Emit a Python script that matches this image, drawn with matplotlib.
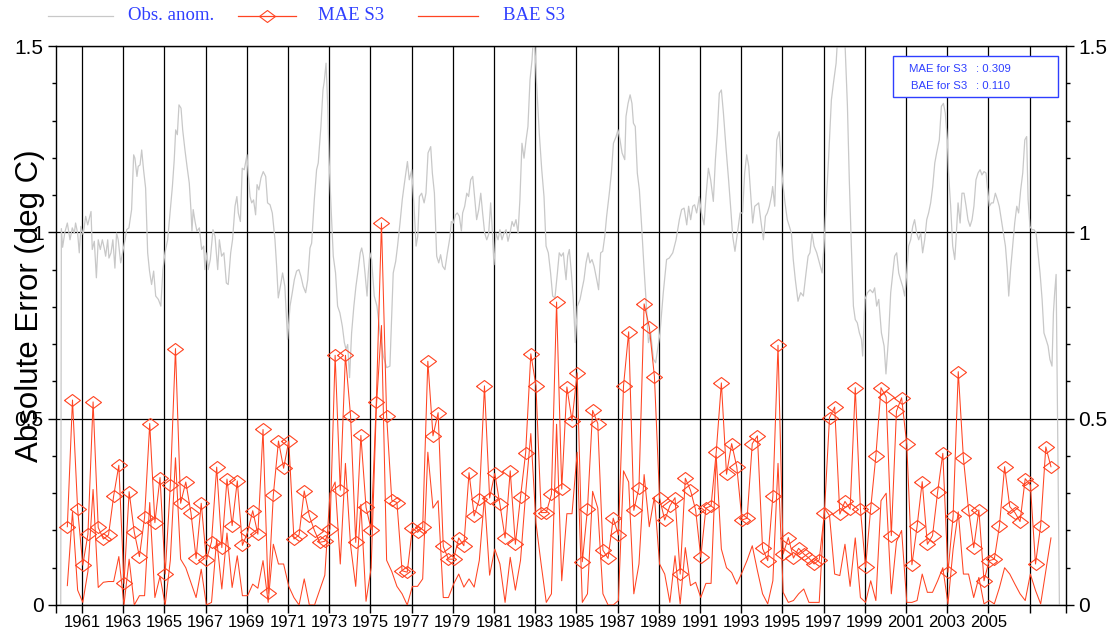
import numpy as np
import matplotlib.pyplot as plt
from matplotlib.lines import Line2D
from matplotlib.patches import Rectangle
from matplotlib.ticker import MultipleLocator

# ---- data ----
# observed anomaly (grey line), irregular vertices: decimal year, value
obs_year = [1959.97, 1960.00, 1960.06, 1960.17, 1960.29, 1960.42, 1960.53, 1960.63, 1960.69, 1960.79,
            1960.87, 1960.95, 1961.06, 1961.18, 1961.28, 1961.44, 1961.50, 1961.60, 1961.70, 1961.79,
            1961.89, 1961.99, 1962.08, 1962.15, 1962.25, 1962.31, 1962.41, 1962.50, 1962.60, 1962.68,
            1962.76, 1962.88, 1962.97, 1963.09, 1963.17, 1963.28, 1963.41, 1963.51, 1963.57, 1963.67,
            1963.73, 1963.82, 1963.90, 1963.99, 1964.09, 1964.19, 1964.28, 1964.38, 1964.48, 1964.58,
            1964.71, 1964.83, 1964.93, 1965.03, 1965.16, 1965.27, 1965.39, 1965.48, 1965.55, 1965.63,
            1965.71, 1965.81, 1965.89, 1966.00, 1966.10, 1966.21, 1966.29, 1966.34, 1966.40, 1966.49,
            1966.58, 1966.70, 1966.81, 1966.91, 1966.97, 1967.07, 1967.13, 1967.23, 1967.36, 1967.46,
            1967.59, 1967.67, 1967.78, 1967.89, 1968.01, 1968.10, 1968.22, 1968.31, 1968.43, 1968.52,
            1968.59, 1968.69, 1968.78, 1968.88, 1969.01, 1969.07, 1969.16, 1969.24, 1969.33, 1969.43,
            1969.50, 1969.59, 1969.69, 1969.80, 1969.92, 1970.01, 1970.13, 1970.24, 1970.37, 1970.45,
            1970.53, 1970.66, 1970.74, 1970.85, 1970.98, 1971.10, 1971.21, 1971.31, 1971.42, 1971.53,
            1971.63, 1971.74, 1971.86, 1971.96, 1972.07, 1972.15, 1972.28, 1972.39, 1972.47, 1972.60,
            1972.70, 1972.76, 1972.85, 1972.93, 1972.99, 1973.09, 1973.20, 1973.31, 1973.41, 1973.52,
            1973.64, 1973.74, 1973.82, 1973.90, 1973.99, 1974.09, 1974.20, 1974.30, 1974.41, 1974.51,
            1974.58, 1974.66, 1974.74, 1974.84, 1974.90, 1974.98, 1975.06, 1975.19, 1975.32, 1975.47,
            1975.63, 1975.79, 1975.95, 1976.11, 1976.23, 1976.32, 1976.44, 1976.55, 1976.65, 1976.80,
            1976.89, 1977.01, 1977.12, 1977.22, 1977.30, 1977.38, 1977.49, 1977.61, 1977.70, 1977.80,
            1977.93, 1978.01, 1978.11, 1978.22, 1978.32, 1978.41, 1978.51, 1978.62, 1978.74, 1978.87,
            1978.93, 1979.03, 1979.13, 1979.22, 1979.32, 1979.42, 1979.48, 1979.58, 1979.68, 1979.77,
            1979.87, 1979.97, 1980.06, 1980.16, 1980.26, 1980.36, 1980.45, 1980.55, 1980.65, 1980.74,
            1980.84, 1980.91, 1981.00, 1981.10, 1981.20, 1981.29, 1981.39, 1981.49, 1981.59, 1981.68,
            1981.78, 1981.88, 1981.97, 1982.07, 1982.17, 1982.26, 1982.36, 1982.46, 1982.56, 1982.65,
            1982.75, 1982.85, 1982.91, 1982.98, 1983.07, 1983.20, 1983.32, 1983.43, 1983.53, 1983.64,
            1983.75, 1983.85, 1983.96, 1984.08, 1984.17, 1984.27, 1984.37, 1984.43, 1984.50, 1984.58,
            1984.66, 1984.76, 1984.85, 1984.95, 1985.05, 1985.18, 1985.27, 1985.37, 1985.47, 1985.57,
            1985.66, 1985.76, 1985.86, 1985.99, 1986.08, 1986.18, 1986.28, 1986.38, 1986.47, 1986.60,
            1986.70, 1986.80, 1986.93, 1987.02, 1987.12, 1987.22, 1987.35, 1987.41, 1987.51, 1987.61,
            1987.70, 1987.77, 1987.86, 1987.96, 1988.06, 1988.17, 1988.28, 1988.38, 1988.50, 1988.61,
            1988.74, 1988.85, 1989.06, 1989.22, 1989.38, 1989.51, 1989.68, 1989.84, 1990.00, 1990.11,
            1990.23, 1990.36, 1990.45, 1990.55, 1990.65, 1990.74, 1990.84, 1990.97, 1991.07, 1991.20,
            1991.29, 1991.41, 1991.52, 1991.65, 1991.75, 1991.84, 1991.94, 1992.04, 1992.14, 1992.26,
            1992.39, 1992.50, 1992.59, 1992.70, 1992.82, 1992.95, 1993.07, 1993.17, 1993.27, 1993.37,
            1993.46, 1993.56, 1993.66, 1993.75, 1993.85, 1993.95, 1994.08, 1994.18, 1994.27, 1994.37,
            1994.47, 1994.53, 1994.63, 1994.73, 1994.85, 1994.92, 1995.02, 1995.13, 1995.24, 1995.34,
            1995.44, 1995.53, 1995.63, 1995.76, 1995.89, 1996.02, 1996.15, 1996.25, 1996.34, 1996.44,
            1996.54, 1996.67, 1996.80, 1996.93, 1997.02, 1997.12, 1997.25, 1997.38, 1997.48, 1997.61,
            1997.67, 1997.80, 1997.93, 1998.04, 1998.16, 1998.25, 1998.35, 1998.45, 1998.54, 1998.64,
            1998.74, 1998.84, 1998.90, 1999.01, 1999.13, 1999.26, 1999.39, 1999.48, 1999.58, 1999.68,
            1999.81, 1999.94, 2000.03, 2000.15, 2000.26, 2000.36, 2000.45, 2000.55, 2000.65, 2000.74,
            2000.84, 2000.94, 2001.04, 2001.13, 2001.23, 2001.33, 2001.42, 2001.52, 2001.62, 2001.72,
            2001.81, 2001.91, 2002.01, 2002.10, 2002.20, 2002.30, 2002.40, 2002.49, 2002.62, 2002.72,
            2002.82, 2002.91, 2003.01, 2003.07, 2003.17, 2003.27, 2003.37, 2003.43, 2003.53, 2003.63,
            2003.72, 2003.82, 2003.92, 2004.01, 2004.11, 2004.21, 2004.30, 2004.40, 2004.50, 2004.60,
            2004.69, 2004.79, 2004.89, 2004.95, 2005.05, 2005.15, 2005.24, 2005.34, 2005.44, 2005.53,
            2005.63, 2005.73, 2005.83, 2005.92, 2005.99, 2006.08, 2006.18, 2006.28, 2006.38, 2006.47,
            2006.57, 2006.67, 2006.77, 2006.86, 2006.93, 2007.02, 2007.12, 2007.22, 2007.32, 2007.41,
            2007.51, 2007.61, 2007.70, 2007.80, 2007.90, 2007.99, 2008.09, 2008.16, 2008.22, 2008.29,
            2008.45]
obs_val = [0.0, 1.01, 0.96, 1.0, 1.025, 0.98, 1.012, 0.998, 1.025, 0.998,
           0.945, 1.016, 0.994, 1.043, 1.02, 1.056, 0.954, 0.976, 0.878, 0.98,
           0.954, 0.98, 0.958, 0.936, 0.98, 0.931, 0.945, 0.98, 0.904, 0.998,
           0.98, 0.918, 0.945, 0.98, 1.007, 1.012, 1.061, 1.208, 1.199, 1.15,
           1.177, 1.181, 1.221, 1.168, 1.119, 0.945, 0.896, 0.86, 0.896, 0.829,
           0.82, 0.802, 0.9, 0.945, 0.98, 1.047, 1.123, 1.195, 1.275, 1.262,
           1.342, 1.333, 1.275, 1.221, 1.177, 1.132, 1.061, 1.003, 1.061, 1.029,
           1.003, 1.012, 0.954, 0.963, 0.9, 0.945, 0.9, 0.927, 1.007, 0.989,
           0.9, 0.98, 0.936, 0.945, 0.864, 0.86, 0.945, 0.98, 1.07, 1.096,
           1.052, 1.029, 1.172, 1.168, 1.208, 1.159, 1.096, 1.079, 1.087, 1.047,
           1.128, 1.114, 1.146, 1.163, 1.15, 1.079, 1.074, 1.052, 0.98, 0.909,
           0.824, 0.864, 0.891, 0.855, 0.713, 0.802, 0.838, 0.873, 0.896, 0.9,
           0.882, 0.855, 0.838, 0.873, 0.958, 0.971, 1.088, 1.168, 1.186, 1.284,
           1.382, 1.404, 1.454, 1.338, 1.204, 1.07, 0.936, 0.891, 0.802, 0.784,
           0.748, 0.704, 0.686, 0.699, 0.61, 0.73, 0.802, 0.855, 0.9, 0.945,
           0.958, 0.936, 0.891, 0.829, 0.891, 0.945, 0.927, 0.829, 0.802, 0.73,
           0.668, 0.637, 0.641, 0.891, 0.922, 0.963, 1.025, 1.088, 1.13, 1.19,
           1.141, 1.168, 1.07, 0.963, 0.989, 1.096, 1.105, 1.079, 1.105, 1.213,
           1.23, 1.159, 1.105, 0.936, 0.918, 0.94, 0.909, 0.9, 0.945, 0.989,
           1.029, 1.025, 1.047, 1.052, 1.043, 1.003, 1.052, 1.07, 1.105, 1.096,
           1.141, 1.15, 1.096, 1.034, 1.061, 1.105, 1.052, 0.998, 0.98, 0.994,
           1.079, 1.016, 0.913, 0.998, 0.98, 1.007, 0.98, 0.998, 1.007, 0.976,
           0.998, 1.029, 1.016, 1.034, 0.998, 1.088, 1.239, 1.199, 1.248, 1.284,
           1.409, 1.463, 1.52, 1.51, 1.4, 1.266, 1.168, 1.096, 0.963, 0.945,
           0.891, 0.829, 0.824, 0.891, 0.945, 0.936, 0.945, 0.909, 0.873, 0.936,
           0.954, 0.891, 0.82, 0.704, 0.802, 0.82, 0.846, 0.873, 0.918, 0.945,
           0.918, 0.927, 0.909, 0.873, 0.846, 0.945, 0.949, 0.989, 1.043, 1.105,
           1.159, 1.239, 1.257, 1.275, 1.248, 1.213, 1.195, 1.311, 1.346, 1.369,
           1.346, 1.293, 1.284, 1.159, 1.114, 1.016, 0.909, 0.82, 0.704, 0.73,
           0.66, 0.65, 0.73, 0.838, 0.927, 0.931, 0.945, 0.98, 1.034, 1.061,
           1.065, 1.02, 1.07, 1.034, 1.07, 1.074, 1.052, 1.096, 1.052, 1.02,
           1.096, 1.172, 1.141, 1.083, 1.195, 1.266, 1.373, 1.382, 1.32, 1.23,
           1.141, 1.06, 0.989, 0.949, 0.998, 1.052, 1.052, 1.159, 1.208, 1.177,
           1.105, 1.025, 1.07, 1.074, 1.079, 1.034, 0.98, 1.043, 1.052, 1.07,
           1.096, 1.123, 1.07, 1.248, 1.27, 1.204, 1.132, 1.079, 1.034, 1.016,
           0.998, 0.927, 0.873, 0.815, 0.838, 0.829, 0.891, 0.936, 0.945, 0.998,
           0.963, 0.945, 0.918, 0.891, 0.963, 1.07, 1.204, 1.355, 1.4, 1.454,
           1.51, 1.6, 1.55, 1.51, 1.338, 1.141, 0.963, 0.802, 0.766, 0.757,
           0.73, 0.713, 0.668, 0.82, 0.838, 0.846, 0.838, 0.851, 0.802, 0.82,
           0.73, 0.695, 0.62, 0.713, 0.838, 0.891, 0.936, 0.945, 0.891, 0.873,
           0.855, 0.829, 0.891, 0.963, 0.98, 1.016, 1.034, 0.998, 0.98, 0.998,
           0.945, 0.98, 1.034, 1.052, 1.079, 1.123, 1.186, 1.213, 1.248, 1.338,
           1.346, 1.32, 1.248, 1.159, 1.07, 0.963, 0.927, 0.98, 1.079, 1.025,
           1.105, 1.105, 1.07, 1.034, 1.016, 1.034, 1.07, 1.141, 1.159, 1.168,
           1.154, 1.163, 1.159, 1.123, 1.07, 1.079, 1.079, 1.105, 1.088, 1.07,
           1.034, 0.998, 0.963, 0.9, 0.829, 0.9, 0.963, 1.025, 1.07, 1.052,
           1.114, 1.159, 1.248, 1.257, 1.088, 1.016, 1.007, 1.007, 0.998, 0.945,
           0.891, 0.82, 0.73, 0.713, 0.695, 0.659, 0.641, 0.784, 0.838, 0.887,
           0.0]

# seasonal errors, first season centred on April 1960, one value per quarter
season_start = 1960.29
mae_s3 = [0.21, 0.55, 0.257,
          0.107, 0.19, 0.545, 0.208,
          0.177, 0.188, 0.293, 0.375,
          0.058, 0.304, 0.195, 0.13,
          0.235, 0.487, 0.221, 0.342,
          0.083, 0.322, 0.688, 0.273,
          0.33, 0.248, 0.125, 0.273,
          0.121, 0.17, 0.37, 0.154,
          0.338, 0.213, 0.333, 0.16,
          0.195, 0.253, 0.19, 0.471,
          0.031, 0.295, 0.44, 0.367,
          0.44, 0.177, 0.188, 0.306,
          0.239, 0.199, 0.168, 0.171,
          0.204, 0.67, 0.308, 0.67,
          0.507, 0.168, 0.455, 0.262,
          0.202, 0.546, 1.025, 0.507,
          0.281, 0.275, 0.092, 0.088,
          0.206, 0.195, 0.208, 0.654,
          0.454, 0.516, 0.157, 0.123,
          0.123, 0.18, 0.159, 0.355,
          0.239, 0.284, 0.588, 0.287,
          0.353, 0.27, 0.18, 0.36,
          0.163, 0.29, 0.409, 0.674,
          0.588, 0.248, 0.248, 0.297,
          0.813, 0.311, 0.585, 0.494,
          0.623, 0.116, 0.257, 0.522,
          0.487, 0.147, 0.125, 0.233,
          0.188, 0.588, 0.733, 0.254,
          0.315, 0.808, 0.746, 0.613,
          0.287, 0.228, 0.266, 0.288,
          0.083, 0.34, 0.308, 0.255,
          0.128, 0.26, 0.266, 0.41,
          0.596, 0.351, 0.433, 0.37,
          0.228, 0.233, 0.433, 0.454,
          0.152, 0.119, 0.293, 0.697,
          0.137, 0.181, 0.126, 0.152,
          0.137, 0.126, 0.11, 0.121,
          0.246, 0.503, 0.531, 0.244,
          0.278, 0.257, 0.583, 0.257,
          0.101, 0.26, 0.4, 0.583,
          0.558, 0.186, 0.52, 0.556,
          0.431, 0.108, 0.211, 0.331,
          0.163, 0.186, 0.304, 0.407,
          0.088, 0.239, 0.626, 0.394,
          0.255, 0.154, 0.255, 0.065,
          0.119, 0.123, 0.213, 0.371,
          0.264, 0.248, 0.224, 0.339,
          0.322, 0.11, 0.213, 0.424,
          0.371]
bae_s3 = [0.052, 0.25, 0.04,
          0.007, 0.09, 0.31, 0.047,
          0.061, 0.063, 0.063, 0.13,
          0.0, 0.123, 0.0, 0.025,
          0.025, 0.275, 0.02, 0.077,
          0.0, 0.12, 0.395, 0.123,
          0.1, 0.06, 0.02, 0.096,
          0.0, 0.007, 0.177, 0.043,
          0.193, 0.047, 0.132, 0.025,
          0.025, 0.056, 0.045, 0.119,
          0.007, 0.163, 0.11, 0.11,
          0.05, 0.02, 0.0, 0.07,
          0.0, 0.0, 0.04, 0.08,
          0.3, 0.33, 0.11, 0.38,
          0.16, 0.05, 0.27, 0.01,
          0.1, 0.53, 0.75, 0.12,
          0.09, 0.05, 0.03, 0.0,
          0.05, 0.05, 0.07, 0.41,
          0.26, 0.28, 0.02, 0.02,
          0.056, 0.083, 0.048, 0.07,
          0.048, 0.12, 0.29, 0.08,
          0.15, 0.11, 0.007, 0.128,
          0.04, 0.12, 0.3, 0.46,
          0.22, 0.11, 0.007, 0.03,
          0.485, 0.065, 0.245, 0.245,
          0.41, 0.007, 0.03, 0.305,
          0.26, 0.03, 0.0, 0.0,
          0.012, 0.36, 0.33, 0.03,
          0.11, 0.35, 0.21, 0.29,
          0.11, 0.083, 0.007, 0.132,
          0.003, 0.154, 0.052, 0.061,
          0.02, 0.058, 0.058, 0.4,
          0.15, 0.1, 0.087, 0.056,
          0.087, 0.12, 0.159, 0.092,
          0.03, 0.003, 0.065, 0.38,
          0.034, 0.007, 0.012, 0.03,
          0.043, 0.007, 0.007, 0.007,
          0.26, 0.24, 0.083, 0.079,
          0.163, 0.05, 0.18, 0.02,
          0.007, 0.065, 0.012, 0.28,
          0.3, 0.03, 0.17, 0.2,
          0.007, 0.007, 0.012, 0.083,
          0.034, 0.034, 0.065, 0.1,
          0.003, 0.15, 0.25, 0.083,
          0.083, 0.02, 0.074, 0.003,
          0.012, 0.003, 0.047, 0.1,
          0.083, 0.056, 0.03, 0.012,
          0.083, 0.039, 0.003, 0.092,
          0.18]

mae_mean = 0.309
bae_mean = 0.110

year_ticks = list(range(1961, 2008, 2))
year_labels = [str(y) if y <= 2005 else "" for y in year_ticks]

# ---- styles ----
RED = "#ff4422"
GREY = "#c8c8c8"
BLUE = "#2f3fff"
SANS = "Liberation Sans"
SERIF = "Liberation Serif"

W, H = 1109, 632
fig = plt.figure(figsize=(W / 100, H / 100), dpi=100)
ax = fig.add_axes([56 / W, 27 / H, 1010 / W, 559 / H])

season_x = season_start + 0.25 * np.arange(len(mae_s3))

ax.plot(obs_year, obs_val, color=GREY, lw=0.9, zorder=2)
ax.plot(season_x, bae_s3, color=RED, lw=0.75, zorder=3)
diamond = [(-1, 0), (0, 0.75), (1, 0), (0, -0.75), (-1, 0)]
ax.plot(season_x, mae_s3, color=RED, lw=0.75, marker=diamond, ms=11.5,
        mfc="none", mec=RED, mew=0.8, zorder=4)

xmin, xmax = 1959.74, 2008.77
ax.set_xlim(xmin, xmax)
ax.set_ylim(0, 1.5)

ax.set_xticks(year_ticks)
ax.set_xticklabels(year_labels, fontfamily=SANS, fontsize=12)
ax.set_xticks([xmin, xmax], minor=True)
ax.tick_params(axis="x", which="both", direction="out", length=6, width=1, pad=1.5)

ax.set_yticks([0, 0.5, 1, 1.5])
ax.set_yticklabels(["0", "0.5", "1", "1.5"], fontfamily=SANS, fontsize=15)
ax.yaxis.set_minor_locator(MultipleLocator(0.1))
ax.tick_params(axis="y", which="major", direction="out", length=6, width=1,
               left=True, right=True, labelleft=True, labelright=True, pad=3)
ax.tick_params(axis="y", which="minor", direction="out", length=3, width=1,
               left=True, right=True)

for sp in ax.spines.values():
    sp.set_linewidth(1)
    sp.set_color("black")

ax.grid(True, which="major", axis="both", color="black", lw=0.9)
ax.set_axisbelow(True)

# the axis title sits over the tick labels, as in the source figure
fig.text(30 / W, 1 - 306 / H, "Absolute Error (deg C)", rotation=90,
         ha="center", va="center", fontfamily=SANS, fontsize=22.5)


# ---- legend drawn along the top edge ----
def legend_item(x0, x1, xt, label, color, marker=None):
    y = 1 - 16 / H
    fig.add_artist(Line2D([x0 / W, x1 / W], [y, y], color=color, lw=0.9,
                          transform=fig.transFigure))
    if marker is not None:
        fig.add_artist(Line2D([(x0 + x1) / 2 / W], [y], marker=marker, ms=11.5,
                              mfc="none", mec=color, mew=0.8, transform=fig.transFigure))
    fig.text(xt / W, y, label, ha="left", va="center", color=BLUE,
             fontfamily=SERIF, fontsize=13.5)


legend_item(48, 113, 128, "Obs. anom.", GREY)
legend_item(238, 296, 318, "MAE S3", RED, diamond)
legend_item(418, 478, 503, "BAE S3", RED)

# ---- stats box ----
fig.add_artist(Rectangle((893 / W, 1 - 97 / H), 165 / W, 41 / H, transform=fig.transFigure,
                         facecolor="white", edgecolor=BLUE, lw=1, zorder=5))
for row, (name, val) in enumerate([("MAE for S3", mae_mean), ("BAE for S3", bae_mean)]):
    yy = 1 - (69 + 17 * row) / H
    fig.text(967 / W, yy, name, ha="right", va="center", color=BLUE,
             fontfamily=SANS, fontsize=8.2, zorder=6)
    fig.text(976 / W, yy, f": {val:.3f}", ha="left", va="center", color=BLUE,
             fontfamily=SANS, fontsize=8.2, zorder=6)

fig.savefig("out.png", dpi=100)
